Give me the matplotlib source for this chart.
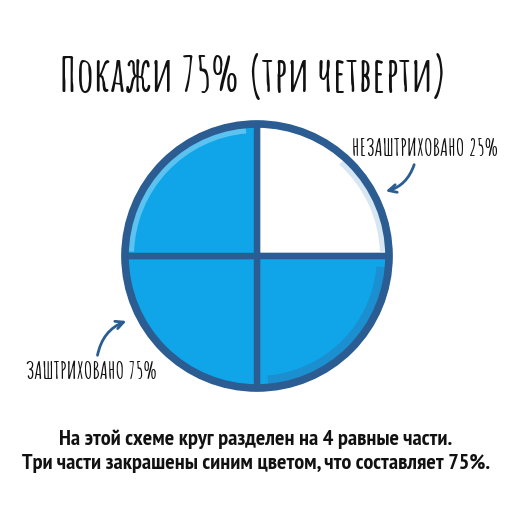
import matplotlib.pyplot as plt
from matplotlib.patches import Wedge

title = "Покажи 75% (три четверти)"
values = [25, 25, 25, 25]
shaded = [False, True, True, True]
label_unshaded = "НЕЗАШТРИХОВАНО 25%"
label_shaded = "ЗАШТРИХОВАНО 75%"
note = "На этой схеме круг разделен на 4 равные части.\nТри части закрашены синим цветом, что составляет 75%."

blue = "#10a4e8"
edge = "#2b5d92"
hand = ["Amatic SC", "DejaVu Sans"]
narrow = ["PT Sans Narrow", "DejaVu Sans"]

fig = plt.figure(figsize=(5.12, 5.12), dpi=100)
ax = fig.add_axes([0, 0, 1, 1])

cx, cy, r = 257, 256, 132
colors = [blue if s else "white" for s in shaded]
ax.pie(values, colors=colors, startangle=90, counterclock=False,
       center=(cx, cy), radius=r,
       wedgeprops=dict(edgecolor=edge, linewidth=4.5), frame=True)
ax.set_xlim(0, 512)
ax.set_ylim(0, 512)
ax.set_aspect("equal")
ax.axis("off")

# rim shading inside the circle
ax.add_patch(Wedge((cx, cy), r - 3, 95, 178, width=6, facecolor="#5cc3f0", edgecolor="none", zorder=3))
ax.add_patch(Wedge((cx, cy), r - 3, 275, 355, width=9, facecolor="#1b8fd0", edgecolor="none", zorder=3))
ax.add_patch(Wedge((cx, cy), r - 3, 2, 48, width=6, facecolor="#d6e6f3", edgecolor="none", zorder=3))
ax.add_patch(plt.Circle((cx, cy), r, facecolor="none", edgecolor=edge, linewidth=5.5, zorder=5))
ax.plot([cx, cx], [cy - r, cy + r], color=edge, lw=4.5, zorder=5, solid_capstyle="butt")
ax.plot([cx - r, cx + r], [cy, cy], color=edge, lw=4.5, zorder=5, solid_capstyle="butt")

ax.text(254, 512 - 76, title, ha="center", va="center", fontsize=34.5,
        family=hand, fontweight="bold", color="#111111")

ax.text(425, 512 - 147, label_unshaded, ha="center", va="center", fontsize=17,
        family=hand, fontweight="bold", color="#111111")
ax.text(91, 512 - 370, label_shaded, ha="center", va="center", fontsize=17,
        family=hand, fontweight="bold", color="#111111")

ax.annotate("", xy=(383, 512 - 192), xytext=(415, 512 - 162),
            arrowprops=dict(arrowstyle="->", color=edge, lw=2,
                            connectionstyle="arc3,rad=-0.3", mutation_scale=14))
ax.annotate("", xy=(129, 512 - 320), xytext=(97, 512 - 358),
            arrowprops=dict(arrowstyle="->", color=edge, lw=2,
                            connectionstyle="arc3,rad=-0.3", mutation_scale=14))

ax.text(256, 512 - 451, note, ha="center", va="center", fontsize=16,
        family=narrow, fontweight="bold", color="#111111", linespacing=1.35)

fig.savefig("out.png", dpi=100, facecolor="white")
